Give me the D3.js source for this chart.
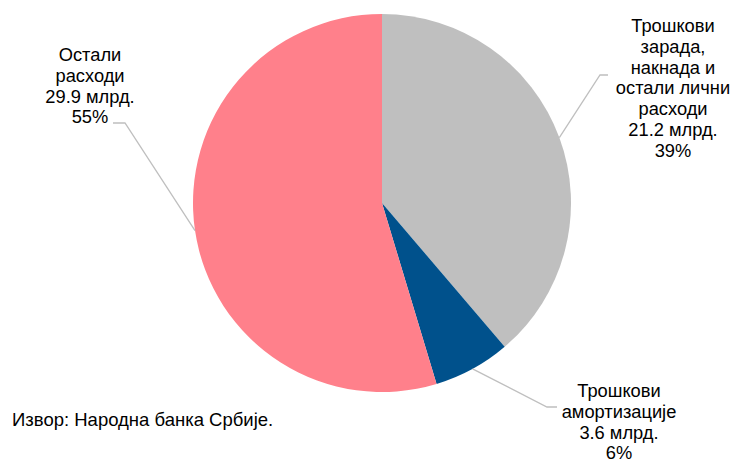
<!DOCTYPE html>
<html><head><meta charset="utf-8">
<script src="https://cdn.jsdelivr.net/npm/d3@7"></script>
<style>body{margin:0;background:#fff}svg{display:block}text{font-family:"Liberation Sans",Arial,sans-serif;fill:#000}</style>
</head><body><svg width="737" height="459"></svg>
<script>
const categories = ["Трошкови зарада, накнада и остали лични расходи", "Трошкови амортизације", "Остали расходи"];
const values = [21.2, 3.6, 29.9];
const percents = ["39%", "6%", "55%"];
const labelLines = [
  ["Трошкови", "зарада,", "накнада и", "остали лични", "расходи"],
  ["Трошкови", "амортизације"],
  ["Остали", "расходи"]
];
const colors = ["#BFBFBF", "#00518C", "#FF808B"];
const source = "Извор: Народна банка Србије.";

const svg = d3.select("svg");
const cx = 382, cy = 203, R = 189;
const g = svg.append("g").attr("transform", `translate(${cx},${cy})`);
const data = categories.map((c, i) => ({c, v: values[i], p: percents[i], lines: labelLines[i], col: colors[i]}));
const pie = d3.pie().value(d => d.v).sort(null);
const arcs = pie(data);
const arc = d3.arc().innerRadius(0).outerRadius(R);
g.selectAll("path.s").data(arcs).join("path").attr("class", "s")
  .attr("d", arc).attr("fill", d => d.data.col);

// label layout: elbow point, end of horizontal, text center x, first baseline
const layout = [
  {elbow: [600, 75], end: [608, 75], tx: 673, ty: 32},
  {elbow: [547, 407], end: [557, 407], tx: 619, ty: 397},
  {elbow: [125, 123], end: [113, 123], tx: 90, ty: 61}
];
const lh = 20.8;
arcs.forEach((a, i) => {
  const m = (a.startAngle + a.endAngle) / 2;
  const sx = cx + R * Math.sin(m), sy = cy - R * Math.cos(m);
  const L = layout[i];
  svg.append("polyline")
    .attr("points", [[sx, sy], L.elbow, L.end].map(p => p.join(",")).join(" "))
    .attr("fill", "none").attr("stroke", "#BFBFBF").attr("stroke-width", 1.3);
  const lines = a.data.lines.concat([d3.format(".1f")(a.data.v) + " млрд.", a.data.p]);
  const t = svg.append("text").attr("text-anchor", "middle").style("font-size", "18.3px");
  lines.forEach((s, k) => t.append("tspan").attr("x", L.tx).attr("y", L.ty + k * lh).text(s));
});

svg.append("text").attr("x", 12).attr("y", 426).style("font-size", "18.5px").text(source);
</script></body></html>
